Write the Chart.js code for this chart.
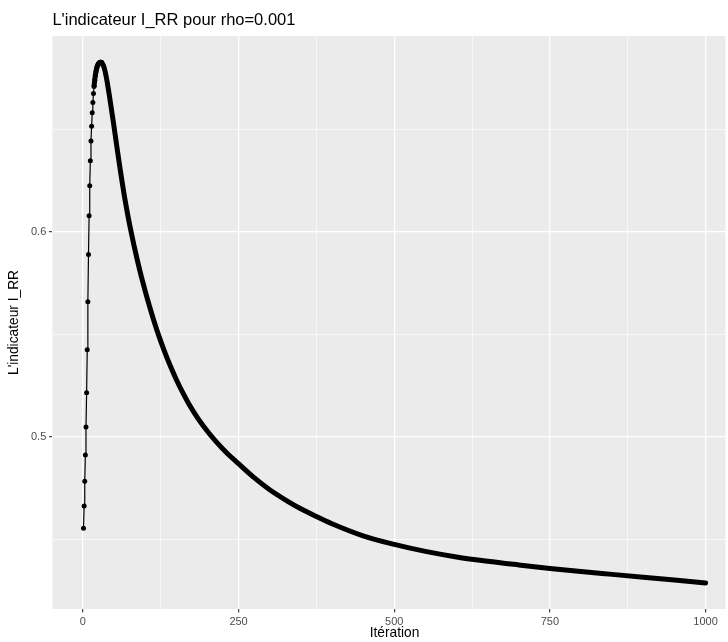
<!DOCTYPE html>
<html><head><meta charset="utf-8">
<script src="https://cdn.jsdelivr.net/npm/chart.js@4/dist/chart.umd.min.js"></script>
<style>html,body{margin:0;padding:0;background:#fff;overflow:hidden}</style>
</head><body>
<canvas id="c" width="728" height="642"></canvas>
<script>
const chartTitle = "L'indicateur I_RR pour rho=0.001";
const xAxisTitle = "Itération";
const yAxisTitle = "L'indicateur I_RR";

const iterations = [1,2,3,4,5,6,7,8,9,10,11,12,13,14,15,16,17,18,19,20,21,22,23,24,25,26,27,28,29,30,
  31,33,35,37,39,41,43,45,47,49,52,55,59,63,67,72,77,82,88,94,100,107,114,122,130,140,150,160,170,185,
  200,215,230,250,275,300,325,350,375,400,450,500,550,600,650,700,750,800,850,900,950,1000];
const values = [0.4555,0.4663,0.4784,0.4912,0.5049,0.5216,0.5426,0.5660,0.5891,0.6080,0.6226,0.6348,0.6445,0.6517,0.6582,0.6633,0.6677,0.6712,0.6741,0.6765,0.6783,0.6797,0.6808,0.6816,0.6821,0.6825,0.6827,0.6829,0.6829,0.6828,
  0.6825,0.6813,0.6793,0.6766,0.6733,0.6696,0.6657,0.6617,0.6576,0.6535,0.6472,0.6408,0.6325,0.6245,0.6170,0.6085,0.6008,0.5936,0.5856,0.5782,0.5713,0.5638,0.5568,0.5494,0.5427,0.5350,0.5281,0.5219,0.5163,0.5090,
  0.5028,0.4974,0.4926,0.4870,0.4802,0.4743,0.4694,0.4650,0.4612,0.4577,0.4518,0.4476,0.4442,0.4415,0.4394,0.4376,0.4359,0.4344,0.4330,0.4316,0.4302,0.4288];

const xMajorTicks = [0,250,500,750,1000];
const xMinorTicks = [125,375,625,875];
const yMajorTicks = [0.5,0.6];
const yMinorTicks = [0.45,0.55,0.65];

const allPts = iterations.map((it,i)=>({x:it,y:values[i]}));
const dotPts = allPts.filter(p=>p.x<=30);
const bandPts = allPts.filter(p=>p.x>=18);

const isMajor = (list,v)=>list.some(m=>Math.abs(m-v)<1e-9);

const bgPlugin = {
  id:'bg',
  beforeDraw(chart){
    const {ctx, chartArea:a} = chart;
    ctx.save();
    ctx.fillStyle='#FFFFFF'; ctx.fillRect(0,0,chart.width,chart.height);
    ctx.fillStyle='#EBEBEB'; ctx.fillRect(a.left,a.top,a.right-a.left,a.bottom-a.top);
    ctx.restore();
  },
  afterDraw(chart){
    const {ctx, chartArea:a} = chart;
    const xs = chart.scales.x;
    ctx.save();
    ctx.fillStyle='#000';
    ctx.font='16.5px "Liberation Sans", Arial, sans-serif';
    ctx.textAlign='left'; ctx.textBaseline='alphabetic';
    ctx.fillText(chartTitle, a.left, 25);
    ctx.font='13.75px "Liberation Sans", Arial, sans-serif';
    ctx.textAlign='center'; ctx.textBaseline='middle';
    ctx.fillText(xAxisTitle, xs.getPixelForValue(500.5), 633);
    ctx.translate(14,(a.top+a.bottom)/2);
    ctx.rotate(-Math.PI/2);
    ctx.fillText(yAxisTitle,0,0);
    ctx.restore();
  }
};

new Chart(document.getElementById('c'),{
  type:'line',
  data:{datasets:[
    {data:dotPts, borderColor:'#000', borderWidth:1.2, pointRadius:2.5, pointHoverRadius:2.5,
     pointBackgroundColor:'#000', pointBorderWidth:0, tension:0},
    {data:bandPts, borderColor:'#000', borderWidth:5, pointRadius:0, cubicInterpolationMode:'monotone',
     borderCapStyle:'round', borderJoinStyle:'round'}
  ]},
  options:{
    responsive:false, animation:false, events:[],
    layout:{padding:{top:36,left:0,right:0,bottom:0}},
    plugins:{legend:{display:false},tooltip:{enabled:false},title:{display:false}},
    scales:{
      x:{type:'linear', min:-48.95, max:1032,
        afterBuildTicks(s){ s.ticks=[...xMajorTicks,...xMinorTicks].sort((a,b)=>a-b).map(v=>({value:v})); },
        afterFit(s){ s.height=33; },
        border:{display:false},
        grid:{color:'#FFFFFF', lineWidth:c=>isMajor(xMajorTicks,c.tick.value)?1.3:0.65,
          drawTicks:true, tickLength:3.4, tickWidth:1.1,
          tickColor:c=>isMajor(xMajorTicks,c.tick.value)?'#333333':'rgba(0,0,0,0)'},
        ticks:{autoSkip:false, maxRotation:0, padding:2.75, color:'#4D4D4D',
          font:{family:'"Liberation Sans", Arial, sans-serif', size:11},
          callback:v=>isMajor(xMajorTicks,v)?String(v):''}
      },
      y:{type:'linear', min:0.4161, max:0.6957,
        afterBuildTicks(s){ s.ticks=[...yMajorTicks,...yMinorTicks].sort((a,b)=>a-b).map(v=>({value:v})); },
        afterFit(s){ s.width=52.4; },
        border:{display:false},
        grid:{color:'#FFFFFF', lineWidth:c=>isMajor(yMajorTicks,c.tick.value)?1.3:0.65,
          drawTicks:true, tickLength:3.4, tickWidth:1.1,
          tickColor:c=>isMajor(yMajorTicks,c.tick.value)?'#333333':'rgba(0,0,0,0)'},
        ticks:{padding:2.75, color:'#4D4D4D',
          font:{family:'"Liberation Sans", Arial, sans-serif', size:11},
          callback:v=>isMajor(yMajorTicks,v)?v.toFixed(1):''}
      }
    }
  },
  plugins:[bgPlugin]
});
</script>
</body></html>
